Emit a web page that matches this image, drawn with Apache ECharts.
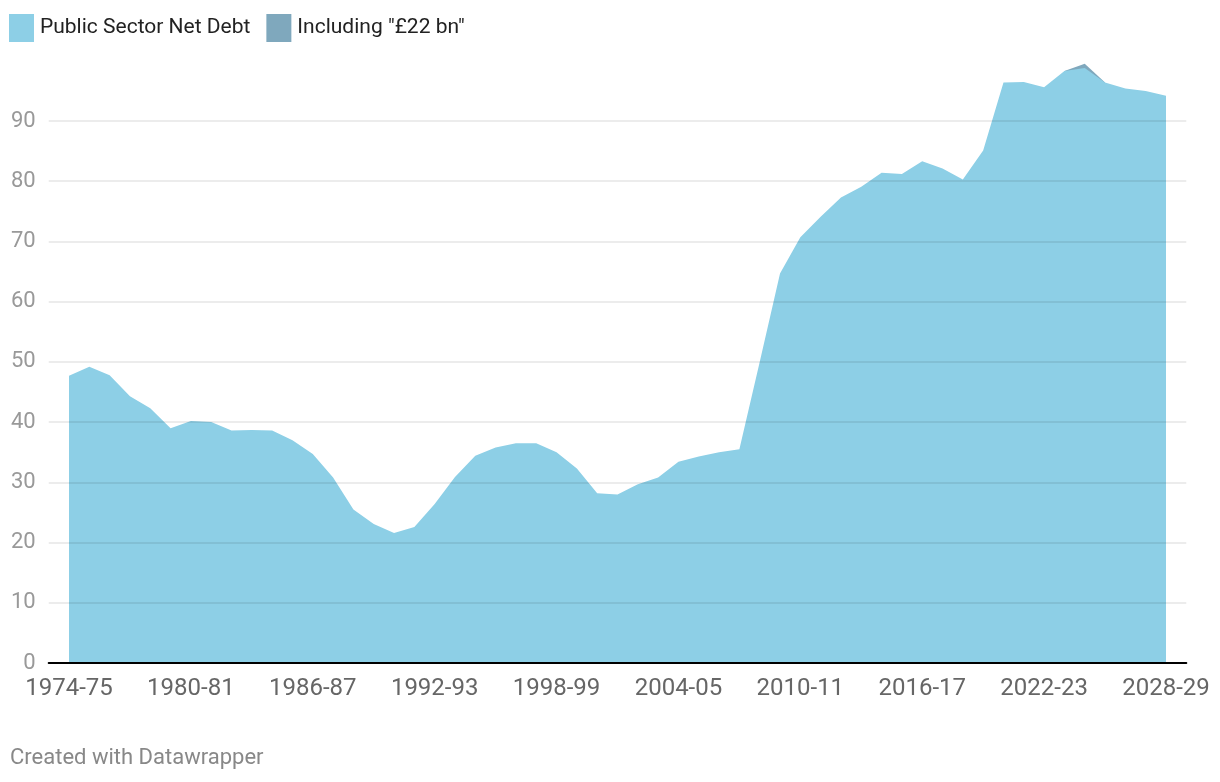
<!DOCTYPE html>
<html>
<head>
<meta charset="utf-8">
<script src="https://cdn.jsdelivr.net/npm/echarts@6/dist/echarts.min.js"></script>
<style>
html,body{margin:0;padding:0;background:#fff;}
#c{width:1220px;height:782px;}
</style>
</head>
<body>
<div id="c"></div>
<script>
const years = [];
for (let y = 1974; y <= 2028; y++) years.push(y + '-' + String((y + 1) % 100).padStart(2, '0'));

const netDebt = [
  47.7, 49.2, 47.8, 44.3, 42.3, 39.0, 40.2, 40.0, 38.6, 38.7,
  38.6, 37.0, 34.7, 30.8, 25.5, 23.1, 21.6, 22.6, 26.4, 30.9,
  34.4, 35.8, 36.5, 36.5, 35.0, 32.3, 28.2, 28.0, 29.7, 30.8,
  33.4, 34.3, 35.0, 35.5, 50.0, 64.7, 70.7, 74.1, 77.3, 79.1,
  81.4, 81.2, 83.3, 82.1, 80.3, 85.1, 96.4, 96.5, 95.6, 98.3,
  98.8, 96.4, 95.4, 95.0, 94.2
];
// "Including £22 bn" variant differs only around 2023-24 .. 2025-26
const including = {49: 98.3, 50: 99.5, 51: 96.4};

const xLabelIdx = [0, 6, 12, 18, 24, 30, 36, 42, 48, 54];
const yTicks = [0, 10, 20, 30, 40, 50, 60, 70, 80, 90];

const mainData = netDebt.map((v, i) => [i, v]);
const incData = netDebt.map((v, i) => [i, including[i] !== undefined ? including[i] : null]);

const chart = echarts.init(document.getElementById('c'));
chart.setOption({
  animation: false,
  textStyle: {fontFamily: 'Roboto'},
  legend: {
    left: 4, top: 9,
    icon: 'rect', itemWidth: 25, itemHeight: 28, itemGap: 16,
    textStyle: {fontFamily: 'Roboto', fontSize: 21, color: '#222', padding: [0, 0, 0, 1]},
    data: ['Public Sector Net Debt', 'Including "£22 bn"']
  },
  grid: {left: 48.7, right: 33.7, top: 60.8, bottom: 119},
  xAxis: {
    type: 'value', min: -1, max: 55, z: 5,
    axisLine: {show: true, lineStyle: {color: '#000', width: 2}},
    axisTick: {show: false},
    splitLine: {show: false},
    axisLabel: {
      customValues: xLabelIdx,
      formatter: v => years[v] || '',
      fontSize: 24, color: '#666', margin: 14, fontFamily: 'Roboto'
    }
  },
  yAxis: {
    type: 'value', min: 0, max: 100, interval: 10, z: 5,
    axisLine: {show: false},
    axisTick: {show: false},
    splitLine: {show: true, showMaxLine: false, lineStyle: {color: 'rgba(0,0,0,0.1)', width: 1.5}},
    axisLabel: {
      showMaxLabel: false,
      formatter: v => (yTicks.indexOf(v) >= 0 ? String(v) : ''),
      fontSize: 22, color: '#999', margin: 13, fontFamily: 'Roboto'
    }
  },
  series: [
    {
      name: 'Including "£22 bn"', type: 'line', data: incData, z: 1,
      symbol: 'none', connectNulls: false,
      lineStyle: {width: 0}, itemStyle: {color: '#7fa8bd'},
      areaStyle: {color: '#7fa8bd', opacity: 1}
    },
    {
      name: 'Public Sector Net Debt', type: 'line', data: mainData, z: 2,
      symbol: 'none',
      lineStyle: {width: 0}, itemStyle: {color: '#8dcfe6'},
      areaStyle: {color: '#8dcfe6', opacity: 1}
    }
  ],
  graphic: [{
    type: 'text', left: 10, top: 747,
    style: {text: 'Created with Datawrapper', fontFamily: 'Roboto', fontSize: 22, fill: '#888'}
  }]
});
</script>
</body>
</html>
